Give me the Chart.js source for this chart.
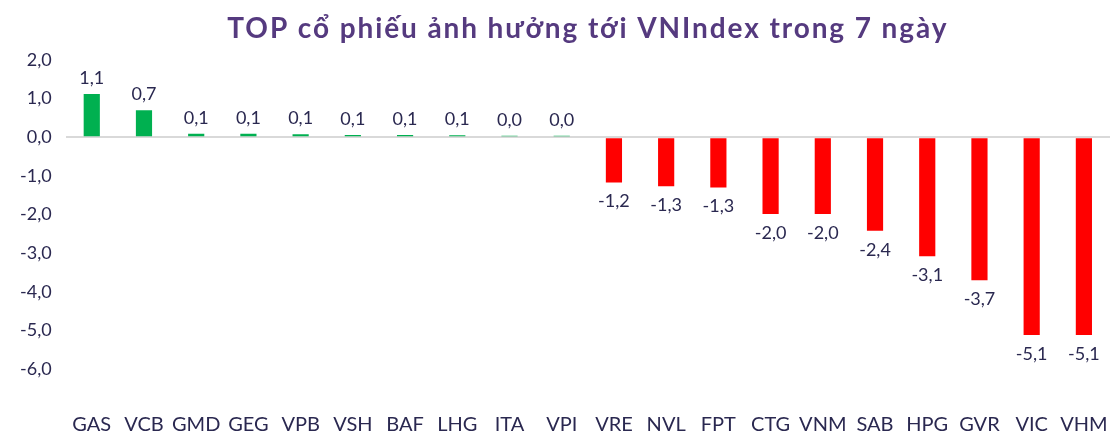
<!DOCTYPE html>
<html>
<head>
<meta charset="utf-8">
<script src="https://cdn.jsdelivr.net/npm/chart.js@4"></script>
<style>
html,body{margin:0;padding:0;background:#fff;}
#wrap{width:1114px;height:433px;position:relative;}
</style>
</head>
<body>
<div id="wrap"><canvas id="c"></canvas></div>
<script>
const TITLE = "TOP cổ phiếu ảnh hưởng tới VNIndex trong 7 ngày";
const categories = ["GAS","VCB","GMD","GEG","VPB","VSH","BAF","LHG","ITA","VPI","VRE","NVL","FPT","CTG","VNM","SAB","HPG","GVR","VIC","VHM"];
const values = [1.12,0.70,0.09,0.09,0.08,0.06,0.06,0.05,0.04,0.04,-1.17,-1.27,-1.30,-1.99,-1.99,-2.42,-3.08,-3.70,-5.12,-5.12];
const yTicks = [2,1,0,-1,-2,-3,-4,-5,-6];

const FONT = "Lato, 'Open Sans', sans-serif";
const TEXT = "#2a2850";
const fmt = v => v.toFixed(1).replace('.', ',');

const labelPlugin = {
  id: 'valLabels',
  afterDatasetsDraw(chart) {
    const ctx = chart.ctx;
    const meta = chart.getDatasetMeta(0);
    ctx.save();
    ctx.font = "18px " + FONT;
    ctx.fillStyle = TEXT;
    ctx.textAlign = 'center';
    ctx.textBaseline = 'alphabetic';
    meta.data.forEach((el, i) => {
      const v = values[i];
      if (v >= 0) ctx.fillText(fmt(v), el.x, el.y - 10);
      else ctx.fillText(fmt(v), el.x, el.y + 25);
    });
    ctx.restore();
  }
};
const titlePlugin = {
  id: 'myTitle',
  afterDraw(chart) {
    const ctx = chart.ctx, a = chart.chartArea;
    ctx.save();
    ctx.font = "bold 28px " + FONT;
    try { ctx.letterSpacing = "1.9px"; } catch (e) {}
    ctx.fillStyle = "#553a7f";
    ctx.textAlign = 'center';
    ctx.textBaseline = 'middle';
    ctx.fillText(TITLE, (a.left + a.right) / 2, 29);
    ctx.restore();
  }
};

new Chart(document.getElementById('c'), {
  type: 'bar',
  data: {
    labels: categories,
    datasets: [{
      data: values,
      backgroundColor: values.map(v => v >= 0 ? '#00b050' : '#ff0000'),
      categoryPercentage: 1,
      barPercentage: 0.31
    }]
  },
  options: {
    responsive: true,
    maintainAspectRatio: false,
    animation: false,
    layout: { padding: { top: 60, left: 6, right: 4, bottom: 0 } },
    plugins: { legend: { display: false }, tooltip: { enabled: false }, title: { display: false } },
    scales: {
      x: {
        afterFit: s => { s.height = 64; s.paddingLeft = 0; s.paddingRight = 0; },
        grid: { display: false, drawTicks: false },
        border: { display: false },
        ticks: { color: TEXT, font: { family: FONT, size: 20 }, padding: 44, maxRotation: 0, autoSkip: false }
      },
      y: {
        min: -6, max: 2,
        afterBuildTicks: s => { s.ticks = yTicks.map(v => ({ value: v })); },
        grid: {
          drawTicks: false,
          color: c => c.tick && c.tick.value === 0 ? '#d9d9d9' : 'rgba(0,0,0,0)',
          lineWidth: 2
        },
        border: { display: false },
        ticks: { color: TEXT, font: { family: FONT, size: 18 }, padding: 14, callback: v => fmt(v) }
      }
    }
  },
  plugins: [labelPlugin, titlePlugin]
});
</script>
</body>
</html>
